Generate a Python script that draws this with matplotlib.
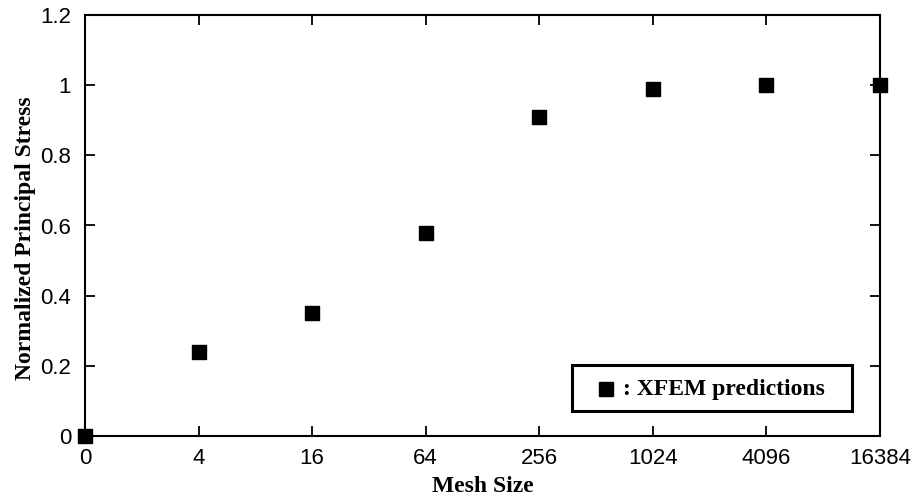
import numpy as np
import matplotlib
matplotlib.use("Agg")
import matplotlib.pyplot as plt
from matplotlib.patches import Rectangle

# -- Data --
mesh_labels = ["0", "4", "16", "64", "256", "1024", "4096", "16384"]
stress = [0.0, 0.24, 0.35, 0.58, 0.91, 0.99, 1.0, 1.0]
y_ticks = [0, 0.2, 0.4, 0.6, 0.8, 1, 1.2]
y_tick_labels = ["0", "0.2", "0.4", "0.6", "0.8", "1", "1.2"]
legend_label = ": XFEM predictions"

x = np.arange(len(mesh_labels))

fig = plt.figure(figsize=(9.17, 5.0), dpi=100)
ax = fig.add_axes([85 / 917, 1 - 436 / 500, (880 - 85) / 917, (436 - 15) / 500])

ax.scatter(x, stress, marker="s", s=90, color="black", zorder=3, clip_on=False)

ax.set_xlim(0, len(mesh_labels) - 1)
ax.set_ylim(0, 1.2)
ax.set_xticks(x)
ax.set_xticklabels(mesh_labels, family="Liberation Sans", fontsize=16)
ax.set_yticks(y_ticks)
ax.set_yticklabels(y_tick_labels, family="Liberation Sans", fontsize=16)
ax.tick_params(direction="in", top=True, right=True, length=7, width=1.3)
ax.tick_params(axis="x", pad=9)
ax.tick_params(axis="y", pad=10)
for s in ax.spines.values():
    s.set_linewidth(1.5)

ax.set_xlabel("Mesh Size", family="Liberation Serif", fontweight="bold", fontsize=17, labelpad=5)
ax.set_ylabel("Normalized Principal Stress", family="Liberation Serif", fontweight="bold", fontsize=17)
ax.yaxis.set_label_coords(-0.062, 0.47)

# legend box drawn by hand, like the original figure
box = Rectangle((0.6126, 0.0594), 0.3522, 0.1092, transform=ax.transAxes,
                facecolor="white", edgecolor="black", linewidth=2.2, zorder=4)
ax.add_patch(box)
ax.plot([0.6553], [0.1116], marker="s", markersize=10, color="black",
        linestyle="none", transform=ax.transAxes, zorder=5)
ax.text(0.6767, 0.1116, legend_label, transform=ax.transAxes, va="center", ha="left",
        family="Liberation Serif", fontweight="bold", fontsize=17, zorder=5)

fig.savefig("out.png", dpi=100)
